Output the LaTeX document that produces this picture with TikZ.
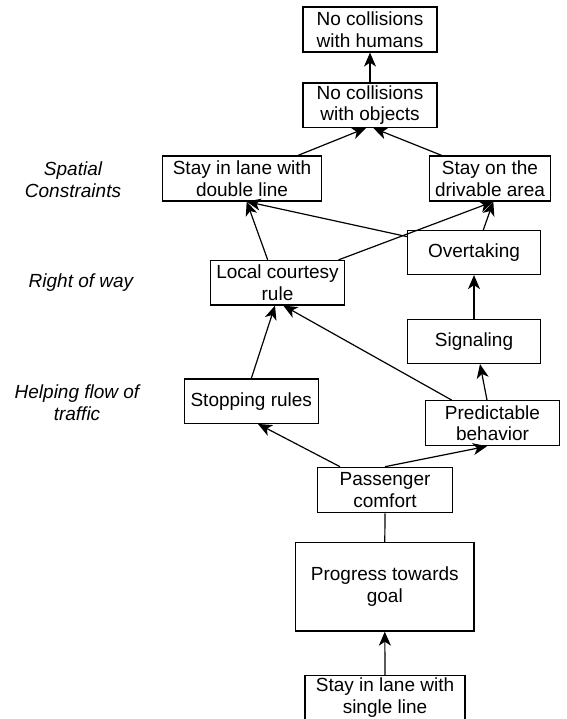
\documentclass[tikz,border=0pt]{standalone}
\usepackage{fontspec}
\setmainfont{Liberation Sans}
\usetikzlibrary{arrows.meta}
\tikzset{
  box/.style={draw, line width=1.2pt, inner sep=0pt, align=center,
    font=\fontsize{19}{21.7}\selectfont},
  lbl/.style={inner sep=0pt, align=center,
    font=\fontsize{19}{21.7}\selectfont\itshape},
  arr/.style={line width=1.2pt, -{Stealth[length=14pt,width=12pt,inset=4pt]}},
  ln/.style={line width=1.2pt}
}
\begin{document}
\begin{tikzpicture}[x=1pt,y=-1pt]
\useasboundingbox (0,0) rectangle (566,719);
% nodes
\node[box, minimum width=134pt, minimum height=45pt] (hum) at (370,29.5) {No collisions\\with humans};
\node[box, minimum width=134pt, minimum height=44.5pt] (obj) at (370,105.2) {No collisions\\with objects};
\node[box, minimum width=159.4pt, minimum height=45pt] (dbl) at (242,178.5) {Stay in lane with\\double line};
\node[box, minimum width=121.4pt, minimum height=45pt] (drv) at (490,178.5) {Stay on the\\drivable area};
\node[box, minimum width=133pt, minimum height=44pt] (ovt) at (474,252.5) {Overtaking};
\node[box, minimum width=133.6pt, minimum height=44.5pt] (lcr) at (277.5,282.7) {Local courtesy\\rule};
\node[box, minimum width=133pt, minimum height=44pt] (sig) at (474,341.5) {Signaling};
\node[box, minimum width=134pt, minimum height=44.3pt] (stp) at (251.3,401.2) {Stopping rules};
\node[box, minimum width=133.6pt, minimum height=45pt] (prd) at (492.5,423.2) {Predictable\\behavior};
\node[box, minimum width=134.6pt, minimum height=45.4pt] (pas) at (385,490) {Passenger\\comfort};
\node[box, minimum width=178.3pt, minimum height=88.7pt] (prg) at (384.8,586.7) {Progress towards\\goal};
\node[box, minimum width=160pt, minimum height=44pt] (sgl) at (385,697.7) {Stay in lane with\\single line};
% side labels
\node[lbl] (spc) at (73,180) {Spatial\\Constraints};
\node[lbl] (row) at (81,282.7) {Right of way};
\node[lbl] (hft) at (77,402.5) {Helping flow of\\traffic};
% connectors
\draw[arr] (obj.north) -- (hum.south);
\draw[arr] ([xshift=56pt]dbl.north) -- ([xshift=-4pt]obj.south);
\draw[arr] ([xshift=-48.3pt]drv.north) -- ([xshift=3.3pt]obj.south);
\draw[arr] ([xshift=-9.8pt]lcr.north) -- ([xshift=4.7pt]dbl.south);
\draw[arr] ([yshift=-6.7pt]ovt.north west) -- ([xshift=4.7pt]dbl.south);
\draw[arr] ([xshift=-6.3pt]lcr.north east) -- ([xshift=3.3pt]drv.south);
\draw[arr] ([xshift=9.3pt]ovt.north) -- ([xshift=3.3pt]drv.south);
\draw[arr] (sig.north) -- (ovt.south);
\draw[arr] (stp.north) -- ([xshift=-2.5pt]lcr.south);
\draw[arr] ([xshift=-40.8pt]prd.north) -- ([xshift=5.8pt]lcr.south);
\draw[arr] ([xshift=-5.5pt]prd.north) -- ([xshift=6pt]sig.south);
\draw[arr] ([xshift=-45pt]pas.north) -- ([xshift=6.7pt]stp.south);
\draw[arr] (pas.north) -- ([xshift=-5.5pt]prd.south);
\draw[ln] (pas.south) -- (prg.north);
\draw[arr] (sgl.north) -- (prg.south);
\end{tikzpicture}
\end{document}
